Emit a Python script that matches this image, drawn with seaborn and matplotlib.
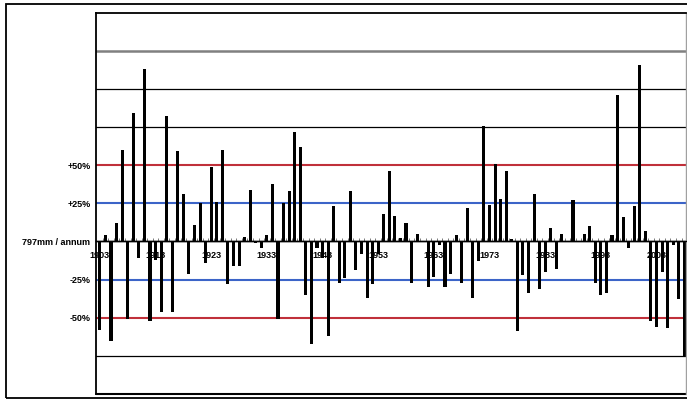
import numpy as np
import pandas as pd
import seaborn as sns
import matplotlib.pyplot as plt
from matplotlib.patches import Rectangle

# Annual rainfall, as percentage departure from the long-term mean (797 mm / annum)
years = list(range(1903, 2009))
anomaly = [
    -58, 4, -65, 12, 60, -51, 84, -11, 113, -52,    # 1903-1912
    -12, -46, 82, -46, 59, 31, -21, 11, 25, -14,    # 1913-1922
    49, 26, 60, -28, -16, -16, 3, 34, -1, -4,       # 1923-1932
    4, 38, -51, 25, 33, 72, 62, -35, -67, -4,       # 1933-1942
    -11, -62, 23, -27, -24, 33, -19, -8, -37, -28,  # 1943-1952
    -8, 18, 46, 17, 2, 12, -27, 5, 0.5, -30,        # 1953-1962
    -23, -2, -30, -21, 4, -27, 22, -37, -13, 76,    # 1963-1972
    24, 51, 28, 46, 1.5, -59, -22, -34, 31, -31,    # 1973-1982
    -20, 9, -18, 5, 0.5, 27, 0.5, 5, 10, -27,       # 1983-1992
    -35, -34, 4, 96, 16, -4, 23, 116, 7, -52,       # 1993-2002
    -56, -20, -57, -2, -38, -76,                    # 2003-2008
]

label_years = [1903, 1913, 1923, 1933, 1943, 1953, 1963, 1973, 1983, 1993, 2003]
grid_levels = [-75, -50, -25, 0, 25, 50, 75, 100, 125]
grid_labels = ["", "-50%", "-25%", "797mm / annum", "+25%", "+50%", "", "", ""]

sns.set_theme(style="white")
plt.rcParams["font.family"] = ["Liberation Sans", "DejaVu Sans"]

W, H = 687, 399
fig = plt.figure(figsize=(W / 100, H / 100), dpi=100)
fig.patch.set_facecolor("white")

# outer chart-area frame
fig.patches.append(Rectangle((6 / W, 1.5 / H), 2.0, (395.5 - 1.5) / H,
                             transform=fig.transFigure, fill=False,
                             edgecolor="black", linewidth=1.3))

ax = fig.add_axes([96 / W, 5 / H, 590 / W, (394 - 12.7) / H])
ax.set_facecolor("white")

df = pd.DataFrame({"year": years, "anomaly": anomaly})
sns.barplot(data=df, x="year", y="anomaly", native_scale=True, color="black",
            saturation=1, width=0.55, errorbar=None, linewidth=0, ax=ax)

ax.set_xlim(1902.3, 2008.3)
ax.set_ylim(-100, 150)
ax.set_xlabel("")
ax.set_ylabel("")
ax.set_axisbelow(True)

# horizontal reference lines
ax.set_yticks(grid_levels)
ax.set_yticklabels(grid_labels)
ax.yaxis.grid(True)
grid_style = {
    -75: ("black", 0.9), -50: ("#c0303a", 1.5), -25: ("#3c64c8", 1.5),
    0: ("black", 1.0), 25: ("#3c64c8", 1.5), 50: ("#c0303a", 1.5),
    75: ("black", 0.9), 100: ("black", 0.9), 125: ("#808080", 1.8),
}
for line, lvl in zip(ax.get_ygridlines(), grid_levels):
    c, lw = grid_style[lvl]
    line.set_color(c)
    line.set_linewidth(lw)
ax.tick_params(axis="y", length=0, pad=4, labelsize=6.5, labelcolor="black")
for lbl in ax.get_yticklabels():
    lbl.set_fontweight("bold")

# category axis running along the zero line
ax.spines["bottom"].set_position(("data", 0))
ax.spines["bottom"].set_color("black")
ax.spines["bottom"].set_linewidth(1.0)
ax.set_xticks(label_years)
ax.set_xticklabels([str(y) for y in label_years])
ax.set_xticks([y + 0.5 for y in years[:-1]], minor=True)
ax.tick_params(axis="x", which="major", length=0, pad=7, labelsize=6.5,
               labelcolor="black")
ax.tick_params(axis="x", which="minor", bottom=True, direction="in",
               length=2.5, width=0.6, color="#666666")
for lbl in ax.get_xticklabels():
    lbl.set_fontweight("bold")

# plot-area border
for side in ("left", "top"):
    ax.spines[side].set_color("black")
    ax.spines[side].set_linewidth(1.3)
ax.spines["right"].set_color("#a0a0a0")
ax.spines["right"].set_linewidth(1.0)
ax.axhline(-100, color="black", linewidth=1.5, clip_on=False)

fig.savefig("out.png", dpi=100, facecolor="white")
